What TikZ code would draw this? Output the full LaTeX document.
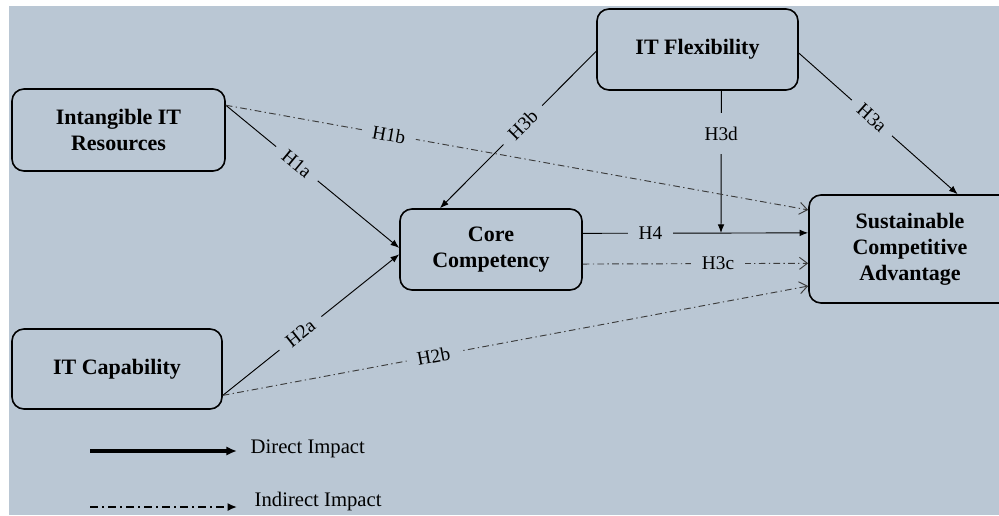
\documentclass[tikz,border=0pt]{standalone}
\usepackage{fontspec}
\setmainfont{Liberation Serif}
\usetikzlibrary{arrows.meta}

\definecolor{panel}{RGB}{186,199,212}
\definecolor{dotline}{RGB}{60,60,60}

\tikzset{
  construct/.style={draw, rounded corners=9pt, line width=1.2pt, align=center,
    inner sep=0pt, font=\fontsize{16.5}{19.5}\selectfont\bfseries},
  direct/.style={-{Latex[length=6.5pt,width=5pt]}, line width=0.7pt},
  indirect/.style={-{Straight Barb[length=6pt,width=9pt]}, line width=0.7pt, draw=dotline,
    dash pattern=on 5pt off 2.5pt on 1pt off 2.5pt},
  hyp/.style={fill=panel, font=\fontsize{14.5}{16}\selectfont, inner xsep=8pt, inner ysep=1pt},
  legendtext/.style={anchor=west, font=\fontsize{15.5}{18}\selectfont}
}

\begin{document}
\begin{tikzpicture}[x=0.75pt, y=-0.75pt]
  \useasboundingbox (0,0) rectangle (999,515);
  \clip (0,0) rectangle (999,515);
  \fill[white] (0,0) rectangle (999,515);
  \fill[panel] (9,6) rectangle (999,515);

  % constructs
  \node[construct, minimum width=159.75pt, minimum height=61.5pt] (intang) at (118.5,130) {Intangible IT\\Resources};
  \node[construct, minimum width=157.5pt, minimum height=60pt] (capab) at (117,369) {IT Capability};
  \node[construct, minimum width=150.75pt, minimum height=60.75pt] (flex) at (697.5,49.5) {IT Flexibility};
  \node[construct, minimum width=136.5pt, minimum height=60.75pt] (core) at (491,249.5) {Core\\Competency};
  \node[construct, minimum width=151.5pt, minimum height=81pt] (sca) at (910,249) {Sustainable\\Competitive\\Advantage};

  \coordinate (modpt) at (721,233);

  % direct paths
  \draw[direct] (intang.13) -- node[hyp, sloped, pos=0.41] {H1a} (core.179);
  \draw[direct] (capab.346) -- node[hyp, sloped, pos=0.44] {H2a} (core.183);
  \draw[direct] (flex.181) -- node[hyp, sloped, pos=0.47] {H3b} (core.141);
  \draw[direct] (flex.358) -- node[hyp, sloped, pos=0.46] {H3a} (sca.49);
  \draw[direct] (core.10) -- node[hyp, pos=0.3] {H4} (sca.171);
  \draw[direct] (flex.300) -- node[hyp, pos=0.3, inner xsep=2pt, inner ysep=10pt] {H3d} (modpt);

  % indirect paths
  \draw[indirect] (intang.13) -- node[hyp, sloped, pos=0.28] {H1b} (sca.159);
  \draw[indirect] (capab.346) -- node[hyp, sloped, pos=0.36] {H2b} (sca.200);
  \draw[indirect] (core.351) -- node[hyp, pos=0.6] {H3c} (sca.188);

  % legend
  \coordinate (lgA) at (90,451);
  \coordinate (lgB) at (237,451);
  \coordinate (lgC) at (90,507);
  \coordinate (lgD) at (237,507);
  \draw[-{Latex[length=8pt,width=7pt]}, line width=2.3pt] (lgA) -- (lgB);
  \draw[-{Latex[length=7pt,width=6pt]}, line width=1.3pt, dash pattern=on 6pt off 3pt on 1.5pt off 3pt] (lgC) -- (lgD);
  \node[legendtext] (dirtxt) at (246,449) {Direct Impact};
  \node[legendtext] (indtxt) at (250,502) {Indirect Impact};
\end{tikzpicture}
\end{document}
